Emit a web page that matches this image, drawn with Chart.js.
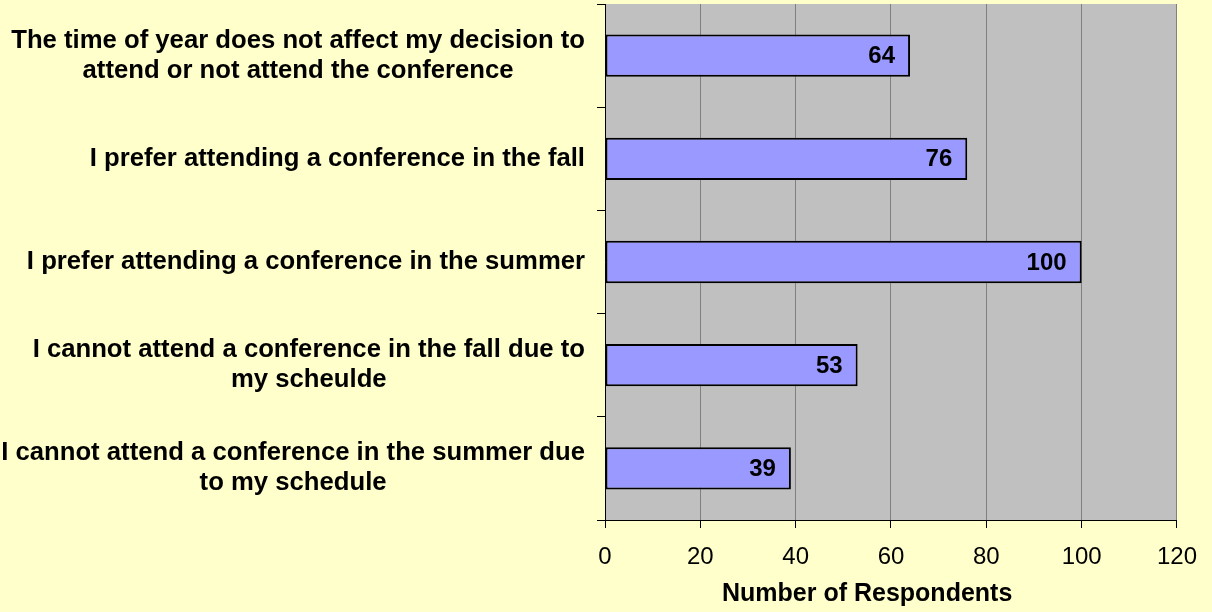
<!DOCTYPE html>
<html>
<head>
  <title>Conference Timing Preferences</title>
  <script src="https://cdn.jsdelivr.net/npm/chart.js"></script>
  <style>
    html, body { margin: 0; padding: 0; background: #FFFFCC; }
    #wrap { width: 1212px; height: 612px; }
  </style>
</head>
<body>
  <div id="wrap">
    <canvas id="timingChart"></canvas>
  </div>

  <script>
    // Survey answers, top to bottom as shown
    const categories = [
      ['The time of year does not affect my decision to', 'attend or not attend the conference'],
      ['I prefer attending a conference in the fall'],
      ['I prefer attending a conference in the summer'],
      ['I cannot attend a conference in the fall due to', 'my scheulde'],
      ['I cannot attend a conference in the summer due', 'to my schedule']
    ];
    const respondents = [64, 76, 100, 53, 39];
    const xTicks = [0, 20, 40, 60, 80, 100, 120];
    const xTitle = 'Number of Respondents';

    const FONT = '"Liberation Sans", Arial, Helvetica, sans-serif';

    // gray plot area behind the bars
    const plotBackground = {
      id: 'plotBackground',
      beforeDraw(chart) {
        const { ctx, chartArea: a } = chart;
        ctx.save();
        ctx.fillStyle = '#C0C0C0';
        ctx.fillRect(a.left, a.top, a.right - a.left, a.bottom - a.top);
        ctx.restore();
      }
    };

    // category labels: right aligned block, lines centred within each block
    const categoryLabels = {
      id: 'categoryLabels',
      afterDraw(chart) {
        const { ctx } = chart;
        const y = chart.scales.y;
        const rightX = chart.chartArea.left - 20;
        const lineGap = 30;
        ctx.save();
        ctx.font = 'bold 25.7px ' + FONT;
        ctx.fillStyle = '#000';
        ctx.textAlign = 'center';
        ctx.textBaseline = 'middle';
        categories.forEach((lines, i) => {
          const cy = y.getPixelForValue(i);
          const w = Math.max(...lines.map(l => ctx.measureText(l).width));
          const cx = rightX - w / 2;
          const startY = cy - (lines.length - 1) * lineGap / 2;
          lines.forEach((l, j) => ctx.fillText(l, cx, startY + j * lineGap));
        });
        ctx.restore();
      }
    };

    // value printed inside the end of each bar, plus the axis title
    const valueLabels = {
      id: 'valueLabels',
      afterDatasetsDraw(chart) {
        const { ctx } = chart;
        const x = chart.scales.x;
        const y = chart.scales.y;
        ctx.save();
        ctx.font = 'bold 24px ' + FONT;
        ctx.fillStyle = '#000';
        ctx.textAlign = 'right';
        ctx.textBaseline = 'middle';
        respondents.forEach((v, i) => {
          ctx.fillText(String(v), x.getPixelForValue(v) - 15, y.getPixelForValue(i) + 1);
        });
        // axis title sits a little left of the plot centre in the original
        ctx.font = 'bold 25px ' + FONT;
        ctx.textAlign = 'center';
        ctx.fillText(xTitle, x.getPixelForValue(55), 594);
        ctx.restore();
      }
    };

    new Chart(document.getElementById('timingChart'), {
      type: 'bar',
      data: {
        labels: categories,
        datasets: [{
          label: xTitle,
          data: respondents,
          backgroundColor: '#9999FF',
          borderColor: '#000000',
          borderWidth: 2,
          borderSkipped: false,
          barPercentage: 0.41,
          categoryPercentage: 1
        }]
      },
      options: {
        indexAxis: 'y',
        responsive: true,
        maintainAspectRatio: false,
        animation: false,
        layout: { padding: { top: 4, right: 33, bottom: 0, left: 0 } },
        plugins: {
          legend: { display: false },
          tooltip: { enabled: false }
        },
        scales: {
          x: {
            min: 0,
            max: 120,
            afterBuildTicks(scale) {
              scale.ticks = xTicks.map(v => ({ value: v }));
            },
            afterFit(scale) { scale.height = 92; },
            grid: { color: '#808080', lineWidth: 1, tickLength: 8, tickColor: '#000' },
            border: { color: '#000', width: 1 },
            ticks: {
              color: '#000',
              padding: 15,
              font: { family: FONT, size: 24 }
            },
            title: { display: false }
          },
          y: {
            offset: true,
            afterFit(scale) { scale.width = 605; },
            grid: { offset: true, drawOnChartArea: false, tickLength: 8, color: '#000' },
            border: { color: '#000', width: 1 },
            ticks: { display: false }
          }
        }
      },
      plugins: [plotBackground, categoryLabels, valueLabels]
    });
  </script>
</body>
</html>
